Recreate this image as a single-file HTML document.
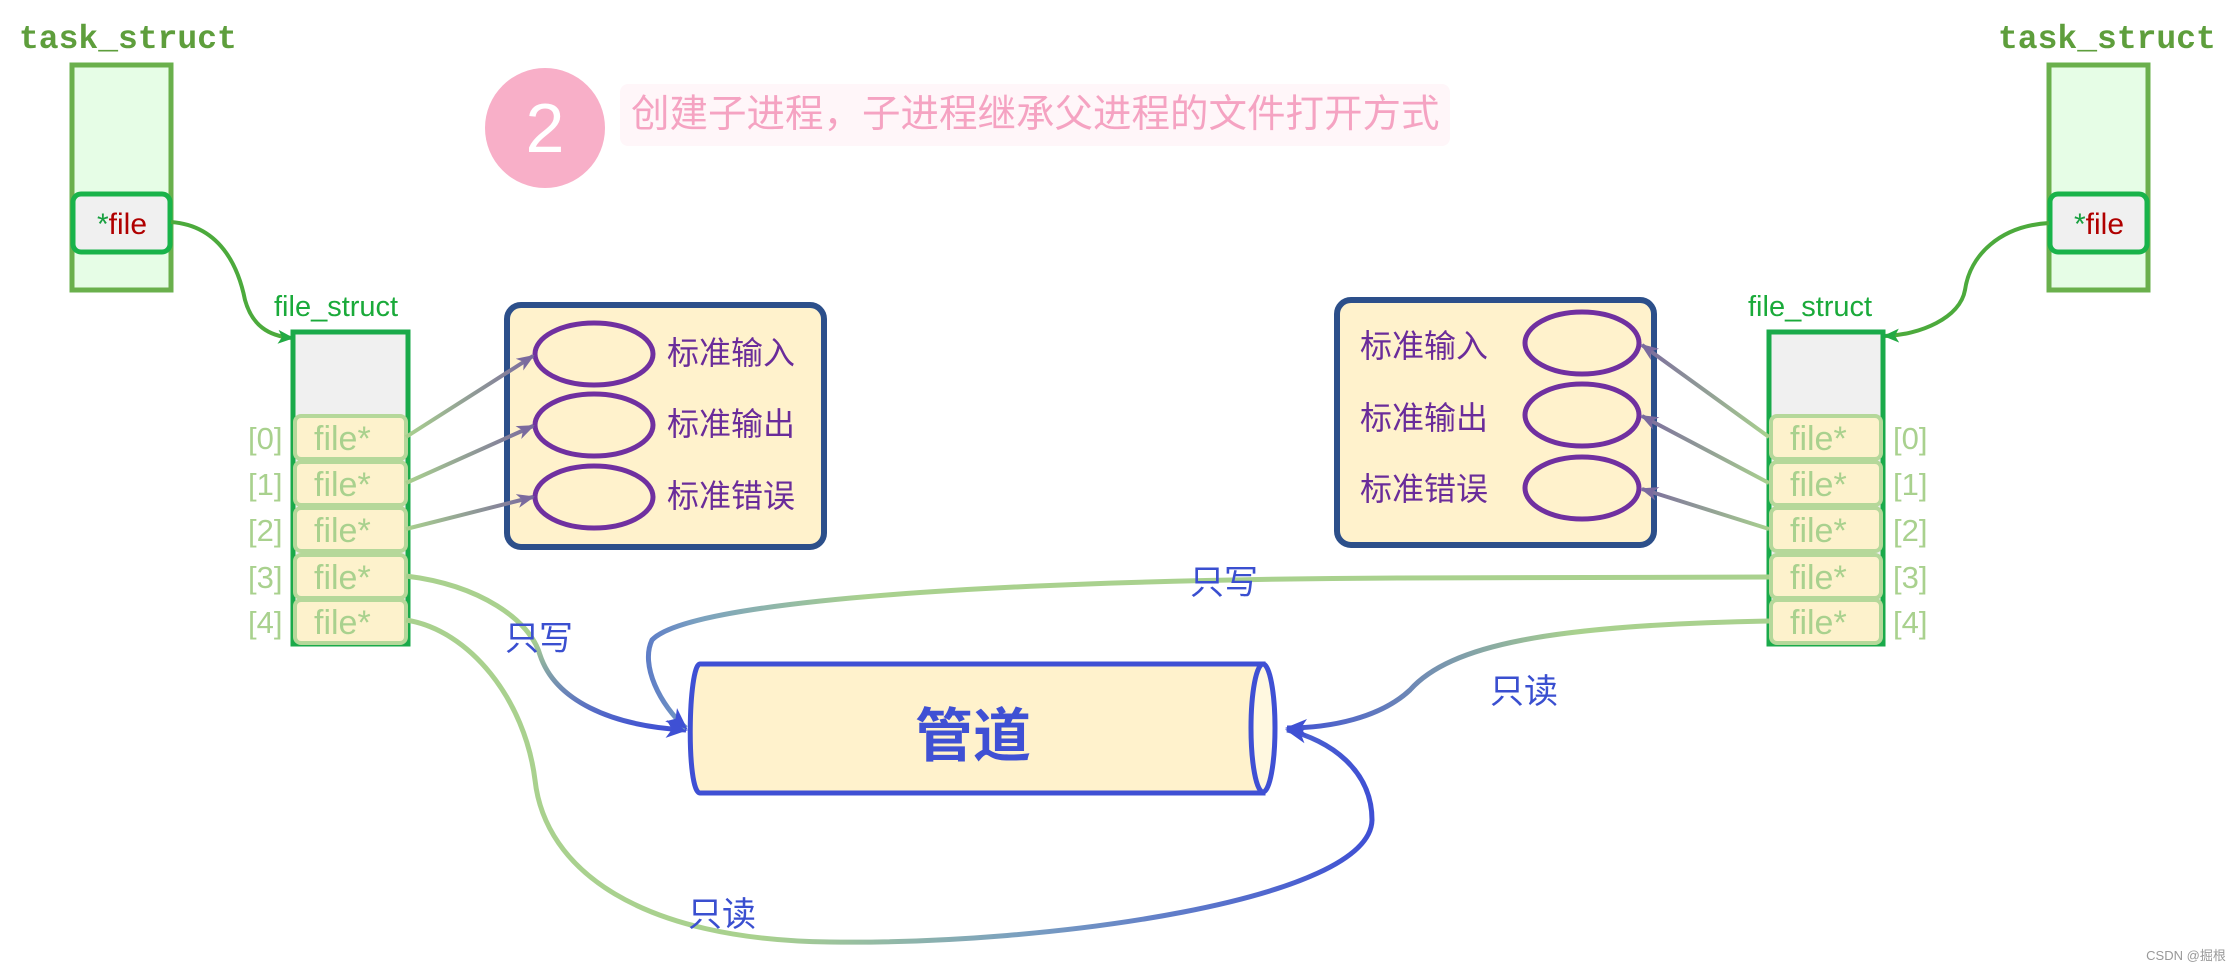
<!DOCTYPE html>
<html><head><meta charset="utf-8"><style>
html,body{margin:0;padding:0;background:#fff;}
svg{display:block;}
.cj{font-family:"Liberation Sans","Noto Sans CJK SC",sans-serif;}
</style></head><body>
<svg width="2240" height="972" viewBox="0 0 2240 972" xmlns="http://www.w3.org/2000/svg">
<defs>
<marker id="ag" markerWidth="16" markerHeight="16" refX="14" refY="8" orient="auto" markerUnits="userSpaceOnUse" viewBox="0 0 16 16"><path d="M0,1 L16,8 L0,15 L4,8z" fill="#22aa44"/></marker>
<marker id="ap" markerWidth="18" markerHeight="18" refX="16" refY="9" orient="auto" markerUnits="userSpaceOnUse" viewBox="0 0 18 18"><path d="M0,2 L18,9 L0,16 L5,9z" fill="#7a6a9e"/></marker>
<marker id="ab" markerWidth="22" markerHeight="22" refX="20" refY="11" orient="auto" markerUnits="userSpaceOnUse" viewBox="0 0 22 22"><path d="M0,2 L22,11 L0,20 L6,11z" fill="#3f50d4"/></marker>
<linearGradient id="gl" gradientUnits="userSpaceOnUse" x1="406" y1="0" x2="533" y2="0"><stop offset="0" stop-color="#a9d18e"/><stop offset="1" stop-color="#7a6a9e"/></linearGradient>
<linearGradient id="gr" gradientUnits="userSpaceOnUse" x1="1769" y1="0" x2="1642" y2="0"><stop offset="0" stop-color="#a9d18e"/><stop offset="1" stop-color="#7a6a9e"/></linearGradient>
<linearGradient id="gA" gradientUnits="userSpaceOnUse" x1="0" y1="576" x2="0" y2="730"><stop offset="0" stop-color="#a9d18e"/><stop offset="0.4" stop-color="#a9d18e"/><stop offset="1" stop-color="#3f50d4"/></linearGradient>
<linearGradient id="gB" gradientUnits="userSpaceOnUse" x1="500" y1="0" x2="1370" y2="0"><stop offset="0" stop-color="#a9d18e"/><stop offset="0.3" stop-color="#a9d18e"/><stop offset="0.6" stop-color="#7a9fc0"/><stop offset="1" stop-color="#3f50d4"/></linearGradient>
<linearGradient id="gC" gradientUnits="userSpaceOnUse" x1="1769" y1="0" x2="640" y2="0"><stop offset="0" stop-color="#a9d18e"/><stop offset="0.8" stop-color="#a9d18e"/><stop offset="0.95" stop-color="#7aa0c0"/><stop offset="1" stop-color="#5a78c8"/></linearGradient>
<linearGradient id="gD" gradientUnits="userSpaceOnUse" x1="1769" y1="0" x2="1285" y2="0"><stop offset="0" stop-color="#a9d18e"/><stop offset="0.4" stop-color="#a9d18e"/><stop offset="1" stop-color="#3f50d4"/></linearGradient>
</defs>

<text x="19" y="48" font-family="Liberation Mono,monospace" font-weight="bold" font-size="33" fill="#5e9e3c">task_struct</text>
<text x="1998" y="48" font-family="Liberation Mono,monospace" font-weight="bold" font-size="33" fill="#5e9e3c">task_struct</text>

<rect x="72" y="65" width="99" height="225" fill="#e6fde6" stroke="#6ab04c" stroke-width="5"/>
<rect x="73" y="194" width="97" height="58" rx="8" fill="#f0f0f0" stroke="#19b34a" stroke-width="5"/>
<text x="122" y="234" text-anchor="middle" font-family="Liberation Sans,sans-serif" font-size="30"><tspan fill="#19a040">*</tspan><tspan fill="#b00000">file</tspan></text>
<rect x="2049" y="65" width="99" height="225" fill="#e6fde6" stroke="#6ab04c" stroke-width="5"/>
<rect x="2050" y="194" width="97" height="58" rx="8" fill="#f0f0f0" stroke="#19b34a" stroke-width="5"/>
<text x="2099" y="234" text-anchor="middle" font-family="Liberation Sans,sans-serif" font-size="30"><tspan fill="#19a040">*</tspan><tspan fill="#b00000">file</tspan></text>

<circle cx="545" cy="128" r="60" fill="#f8afc8"/>
<text x="545" y="152" text-anchor="middle" font-family="Liberation Sans,sans-serif" font-size="70" fill="#fff">2</text>
<rect x="620" y="84" width="830" height="62" rx="8" fill="#fff6f9"/>
<text x="631" y="127" class="cj" font-size="38.5" fill="#f5a3c2">创建子进程，子进程继承父进程的文件打开方式</text>

<path d="M171,222 C225,226 240,275 245,300 C252,325 268,336 292,338" fill="none" stroke="#4caa3c" stroke-width="4" marker-end="url(#ag)"/>
<path d="M2049,223 C2000,226 1970,255 1965,290 C1960,318 1920,335 1885,336" fill="none" stroke="#4caa3c" stroke-width="4" marker-end="url(#ag)"/>

<text x="274" y="316" font-family="Liberation Sans,sans-serif" font-size="29" fill="#1aaa3a">file_struct</text>
<text x="1748" y="316" font-family="Liberation Sans,sans-serif" font-size="29" fill="#1aaa3a">file_struct</text>

<rect x="293" y="332" width="115" height="312" fill="#f0f0f0" stroke="#1aaa4a" stroke-width="5"/>
<rect x="1769" y="332" width="114" height="312" fill="#f0f0f0" stroke="#1aaa4a" stroke-width="5"/>
<g font-family="Liberation Sans,sans-serif" font-size="34" fill="#a9d18e" stroke="none">
<g stroke="#b5d89a" stroke-width="4" fill="#fdf2cc">
<rect x="295" y="416" width="111" height="43" rx="6"/><rect x="295" y="462" width="111" height="43" rx="6"/><rect x="295" y="508" width="111" height="43" rx="6"/><rect x="295" y="555" width="111" height="43" rx="6"/><rect x="295" y="600" width="111" height="43" rx="6"/>
<rect x="1771" y="416" width="110" height="43" rx="6"/><rect x="1771" y="462" width="110" height="43" rx="6"/><rect x="1771" y="508" width="110" height="43" rx="6"/><rect x="1771" y="555" width="110" height="43" rx="6"/><rect x="1771" y="600" width="110" height="43" rx="6"/>
</g>
<text x="314" y="450">file*</text><text x="314" y="496">file*</text><text x="314" y="542">file*</text><text x="314" y="589">file*</text><text x="314" y="634">file*</text>
<text x="1790" y="450">file*</text><text x="1790" y="496">file*</text><text x="1790" y="542">file*</text><text x="1790" y="589">file*</text><text x="1790" y="634">file*</text>
<g font-size="31">
<text x="248" y="449">[0]</text><text x="248" y="495">[1]</text><text x="248" y="541">[2]</text><text x="248" y="588">[3]</text><text x="248" y="633">[4]</text>
<text x="1893" y="449">[0]</text><text x="1893" y="495">[1]</text><text x="1893" y="541">[2]</text><text x="1893" y="588">[3]</text><text x="1893" y="633">[4]</text>
</g>
</g>

<rect x="507" y="305" width="317" height="242" rx="14" fill="#fff2cc" stroke="#2c4f8a" stroke-width="6"/>
<g fill="none" stroke="#7030a0" stroke-width="5">
<ellipse cx="594" cy="354" rx="59" ry="31"/><ellipse cx="594" cy="425" rx="59" ry="31"/><ellipse cx="594" cy="497" rx="59" ry="31"/>
</g>
<g class="cj" font-size="32" fill="#6a2c9a">
<text x="667" y="364">标准输入</text><text x="667" y="435">标准输出</text><text x="667" y="507">标准错误</text>
</g>
<rect x="1337" y="300" width="317" height="245" rx="14" fill="#fff2cc" stroke="#2c4f8a" stroke-width="6"/>
<g fill="none" stroke="#7030a0" stroke-width="5">
<ellipse cx="1582" cy="343" rx="57" ry="31"/><ellipse cx="1582" cy="415" rx="57" ry="31"/><ellipse cx="1582" cy="488" rx="57" ry="31"/>
</g>
<g class="cj" font-size="32" fill="#6a2c9a">
<text x="1360" y="357">标准输入</text><text x="1360" y="429">标准输出</text><text x="1360" y="500">标准错误</text>
</g>

<g fill="none" stroke-width="4">
<path d="M406,437 L533,356" stroke="url(#gl)" marker-end="url(#ap)"/>
<path d="M406,483 L533,426" stroke="url(#gl)" marker-end="url(#ap)"/>
<path d="M406,529 L533,497" stroke="url(#gl)" marker-end="url(#ap)"/>
<path d="M1769,437 L1642,345" stroke="url(#gr)" marker-end="url(#ap)"/>
<path d="M1769,483 L1642,416" stroke="url(#gr)" marker-end="url(#ap)"/>
<path d="M1769,529 L1642,489" stroke="url(#gr)" marker-end="url(#ap)"/>
</g>

<path d="M700,664 L1263,664 L1263,793 L700,793 C686,793 688,664 700,664 Z" fill="#fff2cc" stroke="#3f50d4" stroke-width="5"/>
<ellipse cx="1263" cy="728" rx="12" ry="64" fill="#fff8e0" stroke="#3f50d4" stroke-width="5"/>
<text x="973" y="756" text-anchor="middle" class="cj" font-weight="bold" font-size="58" fill="#3f50d4">管道</text>

<g fill="none" stroke-width="5">
<path d="M406,576 C480,585 530,620 540,655 C555,700 610,726 686,730" stroke="url(#gA)" marker-end="url(#ab)"/>
<path d="M406,620 C470,630 525,700 535,780 C545,870 640,940 830,942 C1050,945 1370,900 1372,820 C1372,770 1330,740 1287,730" stroke="url(#gB)" marker-end="url(#ab)"/>
<path d="M1769,577 L1400,578 C1000,580 690,600 652,640 C640,665 660,705 686,728" stroke="url(#gC)" marker-end="url(#ab)"/>
<path d="M1769,621 C1550,625 1450,645 1410,690 C1380,718 1330,728 1287,728" stroke="url(#gD)" marker-end="url(#ab)"/>
</g>
<g class="cj" font-size="34" fill="#3a4fd0">
<text x="505" y="650">只写</text>
<text x="1190" y="594">只写</text>
<text x="688" y="926">只读</text>
<text x="1490" y="703">只读</text>
</g>

<text x="2186" y="960" text-anchor="middle" class="cj" font-size="13" fill="#999">CSDN @掘根</text>
</svg>
</body></html>
